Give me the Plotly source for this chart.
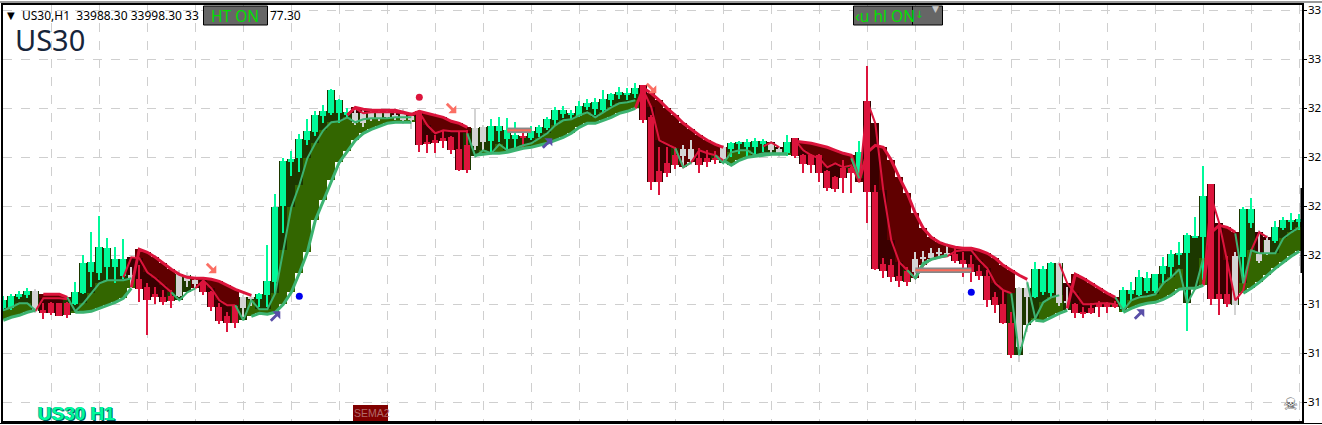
import plotly.graph_objects as go

N = 163

def series(*segments):
    out = [None] * N
    for start, values in segments:
        out[start:start + len(values)] = values
    return out

kinds = list(
    "gggg" "n" "rrrr" "ggggggg" "n" "rrrrr" "nnn" "rrrrr" "nn" "gggggggggggg" "nnnnnnnn"
    "rrrrrrr" "nn" "gggg" "r" "gggggggggggggg" "rrrrr" "nn" "rrr" "n" "ggggg" "nn" "g"
    "rrrrrrrr" "g" "rrrrrr" "nnnnn" "rrrrrrrr" "nn" "ggg" "nn" "rrrrrr" "ggggggggggg" "rrr" "n"
    "gg" "nn" "gggg"
)
body_top = [102,106,108,111,111,92,99,99,99,110,139,140,155,154,143,143,127,123,115,108,105,106,128,127,122,120,110,95,86,96,105,105,108,121,195,241,243,263,271,287,291,312,302,290,289,289,289,289,289,287,288,286,290,260,262,264,265,253,257,274,275,276,276,272,267,266,271,275,283,292,292,289,296,299,300,303,308,310,309,314,317,285,231,239,247,253,253,244,244,244,255,259,260,260,261,261,259,253,260,264,247,247,247,231,225,234,234,250,301,210,138,137,126,131,143,145,149,150,149,148,142,138,131,126,105,98,79,114,114,133,133,139,139,101,98,90,94,98,99,98,112,112,125,124,128,136,148,149,167,166,206,218,108,108,146,193,193,148,162,175,182,182,183]
body_bottom = [94,94,105,107,91,89,89,86,87,98,109,130,129,135,135,126,123,113,102,105,100,101,106,121,118,110,95,81,79,79,94,103,103,107,120,196,240,244,262,270,286,289,289,287,279,279,284,284,285,285,282,282,257,258,259,261,252,232,232,256,260,261,271,263,263,264,264,269,274,282,288,287,286,295,293,292,302,307,308,308,282,220,220,229,237,246,243,237,240,242,243,253,258,255,255,258,252,249,249,246,238,237,229,214,213,224,229,230,210,133,131,125,121,120,130,143,144,148,147,141,138,130,126,102,97,79,47,55,105,105,110,109,99,99,89,89,89,95,95,95,93,108,107,111,111,128,135,147,149,165,165,103,103,98,97,145,179,141,148,161,174,180,180]
wick_high = [106,108,111,114,113,99,100,99,100,120,147,170,186,164,155,163,135,137,119,115,112,112,132,130,125,122,111,99,90,97,107,108,109,157,208,244,251,268,283,291,297,313,303,294,295,292,292,293,294,294,293,290,292,267,267,272,266,270,272,294,277,283,285,284,280,273,276,277,285,295,296,292,301,303,304,312,309,315,314,319,317,287,255,255,255,257,262,254,252,251,257,260,261,263,264,263,261,255,267,264,248,248,248,232,226,242,235,261,336,217,144,143,140,135,150,151,154,154,159,154,150,147,137,132,110,112,90,115,121,140,136,140,140,115,99,95,99,101,100,101,115,120,132,130,128,145,152,160,169,185,236,218,179,146,150,195,204,172,167,181,185,189,188]
wick_low = [91,92,103,104,89,83,87,86,84,97,108,115,122,122,119,123,114,100,67,98,97,94,105,115,106,107,91,78,70,74,85,96,95,95,109,169,226,230,257,266,279,287,279,285,277,275,281,281,283,282,278,273,250,249,249,254,248,231,229,252,252,249,260,250,254,255,262,265,272,277,284,283,285,292,287,289,296,303,302,304,279,212,207,225,233,234,237,229,235,238,239,245,248,245,246,250,246,245,246,244,229,229,220,211,210,209,209,220,179,132,124,120,115,116,124,131,142,144,145,139,125,120,122,95,89,78,44,40,70,104,107,105,96,92,84,84,88,85,89,94,90,102,106,109,109,119,125,137,71,164,122,97,87,95,87,119,174,139,147,159,172,172,172]

g_thick = series(
    (0, [82,85,87,90,92]),
    (9, [90,90,91,94,97,100,104,114]),
    (31, [86,89,88,90,98,110,129,150,182,202,222,240,251,262,269,273,276,279,280,280,280]),
    (59, [247,248,249,249,250,252,254,255,257,259,262,265,269,275,279,279,282,285,289,291,294]),
    (90, [242,237,242,245,246,247,248,248,248]),
    (114, [124,139,143,145,147]),
    (129, [82,81,85,89,92]),
    (140, [90,94,97,99,100,103,107,113,114,114,117]),
    (155, [109,114,120,127,134,140,146,151]),
)
g_thin = series(
    (0, [92,95,99,99,92]),
    (8, [105,91,99,109,119,122,122,122,124]),
    (21, [110,102,110,114]),
    (29, [97,82,102,93,93,109,152,195,217,244,259,272,280,281,285,280,283,284,284,284,285,285,285]),
    (58, [269,246,252,249,258,252,254,257,259,264,269,277,282,283,287,290,285,290,295,299,300,302]),
    (84, [254,235,240]),
    (89, [247,239,250,252,252,247,249,249,249,249]),
    (106, [244,224]),
    (113, [132,124,137,143,145,147]),
    (126, [109,47,77]),
    (129, [84,100,105,107]),
    (139, [105,92,102,105,106,108,119,125,133,99,114,144]),
    (154, [169,119,152,149,149,149,164,170,175]),
)
g_link = series((128, [120, 84]))
r_thick = series(
    (5, [108,108,108,105]),
    (16, [115,153,150,145,139,133,128,125,124,124,123,121,117,113,110,107]),
    (43, [287,295,293,292,292,292,292,290,288,291,289,287,285,281,279,275]),
    (79, [294,314,309,302,294,287,279,273,267,262,258,255]),
    (99, [261,260,259,257,255,252,249,247]),
    (107, [222,250,257,255,242,225,209,189,174,165,160,157,155,154,154,152,149,144,137,132,127,123]),
    (133, [94,128,124,119,114,109,105]),
    (150, [117,170,177,175,170]),
)
r_thin = series(
    (4, [91,104,104,104,103]),
    (15, [125,145,144,130,124,117,110]),
    (24, [114,122,114,102,97,97]),
    (43, [288,294,289,290,290,290,290,289,287,290,277,269,272,271,271,271]),
    (79, [294,312,295,262,258,254,235,240,252,249,247,242]),
    (95, [256,260,255]),
    (99, [262,252,247,244,235,239,235,237,220,301,279,212,162,140,132,124,137,143,145,146,151,152,152,142,134,119,112,109]),
    (132, [139,119,109,98,98,99,99,98]),
    (150, [117,205,179,142,102,112,152,170,165]),
)

sell_arrow_x = [26, 56, 81]
sell_arrow_y = [134, 294, 314]
buy_arrow_x = [34, 68, 142]
buy_arrow_y = [86, 259, 88]
red_dot_x, red_dot_y = [52], [305]
blue_dot_x, blue_dot_y = [37, 121], [106, 110]
level_lines = [(114, 121, 132), (63, 66, 272)]

grid_x = list(range(6, 163, 6))
tick_values = [0, 49, 98, 147, 196, 245, 294, 343, 392]
tick_labels = ["31", "31", "31", "32", "32", "32", "32", "33", "33"]

header_left = "US30,H1  33988.30 33998.30 33"
header_right = "77.30"

GREEN, RED, GREY = "#00fa9a", "#dc143c", "#d3d3d3"
kind_color = {"g": GREEN, "r": RED, "n": GREY}
colors = [kind_color[k] for k in kinds]
xs = list(range(N))


def span(line, other=None):
    base, height = [], []
    for k in xs:
        v = line[k] if line[k] is not None else (other[k] if other else None)
        if v is None:
            base.append(None); height.append(None); continue
        lo = min(body_bottom[k], v)
        hi = max(body_top[k], v)
        base.append(lo); height.append(hi - lo)
    return base, height


def band(top, bottom):
    base, height = [], []
    for k in xs:
        if top[k] is None or bottom[k] is None or top[k] <= bottom[k]:
            base.append(None); height.append(None)
        else:
            base.append(bottom[k]); height.append(top[k] - bottom[k])
    return base, height


fig = go.Figure()


def bars(base, height, color, width=1.0):
    fig.add_trace(go.Bar(x=xs, y=height, base=base, width=width, marker=dict(color=color, line=dict(width=0)), hoverinfo="skip"))


b, h = span(r_thin); bars(b, h, "#3a0000")
b, h = span(g_thin, g_thick); bars(b, h, "#1c3800")
b, h = band(r_thick, r_thin); bars(b, h, "#600000")
b, h = band(g_thin, g_thick); bars(b, h, "#336600")
bars(wick_low, [u - l for u, l in zip(wick_high, wick_low)], colors, 0.125)
bars(body_bottom, [max(t - m, 1) for t, m in zip(body_top, body_bottom)], colors, 0.75)


def line(y, color, width):
    fig.add_trace(go.Scatter(x=xs, y=y, mode="lines", line=dict(color=color, width=width), hoverinfo="skip"))


line(r_thick, RED, 3)
line(r_thin, RED, 2)
line(g_thick, "#3cb371", 3)
line(g_thin, "#3cb371", 2)
line(g_link, "#3cb371", 2)

for x0, x1, y in level_lines:
    fig.add_trace(go.Scatter(x=[x0, x1], y=[y, y], mode="lines", line=dict(color="#888888", width=5.5), hoverinfo="skip"))
    fig.add_trace(go.Scatter(x=[x0, x1], y=[y, y], mode="lines", line=dict(color="#fa6a5a", width=2), hoverinfo="skip"))

fig.add_trace(go.Scatter(x=red_dot_x, y=red_dot_y, mode="markers", marker=dict(color=RED, size=7), hoverinfo="skip"))
fig.add_trace(go.Scatter(x=blue_dot_x, y=blue_dot_y, mode="markers", marker=dict(color="#0000ee", size=7), hoverinfo="skip"))

ARROW_OUTLINE = [(5, 5), (5, -3), (2, 0), (-3.5, -5.5), (-5.5, -3.5), (0, 2), (-3, 5)]


def arrow(x, y, screen_sign, color):
    pts = [f"{px} {screen_sign * py}" for px, py in ARROW_OUTLINE]
    path = "M " + " L ".join(pts) + " Z"
    fig.add_shape(type="path", xsizemode="pixel", ysizemode="pixel", xanchor=x, yanchor=y, xref="x", yref="y",
                  path=path, fillcolor=color, line=dict(width=0), layer="above")


for ax, ay in zip(sell_arrow_x, sell_arrow_y):
    arrow(ax, ay, -1, "#fb6f64")
for ax, ay in zip(buy_arrow_x, buy_arrow_y):
    arrow(ax, ay, 1, "#5a4fa8")

W, H = 1322, 425
ML, MR, MT, MB = 3, 20, 5, 4
PW, PH = W - ML - MR, H - MT - MB


def fx(px):
    return (px - ML) / PW


def fy(py):
    return 1 - (py - MT) / PH


def rect(x0, y0, x1, y1, fill, line_color=None, lw=1):
    fig.add_shape(type="rect", xref="paper", yref="paper", x0=fx(x0), x1=fx(x1), y0=fy(y1), y1=fy(y0),
                  fillcolor=fill, line=dict(color=line_color, width=lw) if line_color else dict(width=0), layer="above")


def label(px, py, text, size, color, family="Noto Sans", anchor="left", **font):
    fig.add_annotation(xref="paper", yref="paper", x=fx(px), y=fy(py), text=text, showarrow=False,
                       xanchor=anchor, yanchor="middle", font=dict(family=family, size=size, color=color, **font))


rect(0, 1, W, 3, "#9a9a9a")
rect(0, 423, W, 424, "#000000")
rect(1300.5, 188, 1303, 273, "#000000")
rect(203.5, 6, 267.5, 25, "#666666", "#000000")
rect(853.5, 6, 942.5, 25, "#666666", "#000000")
rect(912, 6, 913, 25, "#000000")
rect(353, 405, 388, 421, "#800000")

label(5, 15, "▼", 10, "#000000", family="DejaVu Sans")
label(20, 15, header_left, 12, "#000000")
label(268, 15, header_right, 12, "#000000")
label(13, 39, "US30", 29, "#16253a")
label(209, 16, "HT ON", 15.5, "#00e000")
label(853, 16, "‹u hl ON", 15.5, "#00e000")
label(913, 14, "↓", 10, "#00e000", family="DejaVu Sans")
label(930, 9, "▼", 9, "#c8c8c8", family="DejaVu Sans")
label(352, 413, "SEMA2", 10.5, "#b06a6a", family="Liberation Sans")
label(36, 413, "<b>US30 H1</b>", 19, GREEN, family="Liberation Sans", shadow="1px 1px 0 #006060, -1px 0 0 #00b0a0")
label(1290, 404, "☠", 17, "#444444", family="DejaVu Sans", anchor="center")

fig.update_layout(
    width=W, height=H, margin=dict(l=ML, r=MR, t=MT, b=MB), showlegend=False,
    paper_bgcolor="white", plot_bgcolor="white", barmode="overlay", bargap=0,
    xaxis=dict(range=[-0.04, 162.34], tickmode="array", tickvals=grid_x, showticklabels=False, ticks="",
               showgrid=True, gridcolor="#cfcfcf", griddash="dash", gridwidth=1, zeroline=False, automargin=False,
               showline=True, linecolor="#000000", linewidth=1.5, mirror=True),
    yaxis=dict(range=[-18.7, 397.3], side="right", tickmode="array", tickvals=tick_values, ticktext=tick_labels,
               ticks="outside", ticklen=3, tickcolor="#000000", showgrid=True, gridcolor="#cfcfcf", griddash="dash",
               gridwidth=1, zeroline=False, showline=True, linecolor="#000000", linewidth=1.5, mirror=True, automargin=False,
               ticklabelstandoff=-1, tickfont=dict(family="Noto Sans", size=11.5, color="#000000")),
)

fig.write_html("out.html", config=dict(displayModeBar=False),
               post_script="document.body.style.margin='0';document.body.style.overflow='hidden';")
